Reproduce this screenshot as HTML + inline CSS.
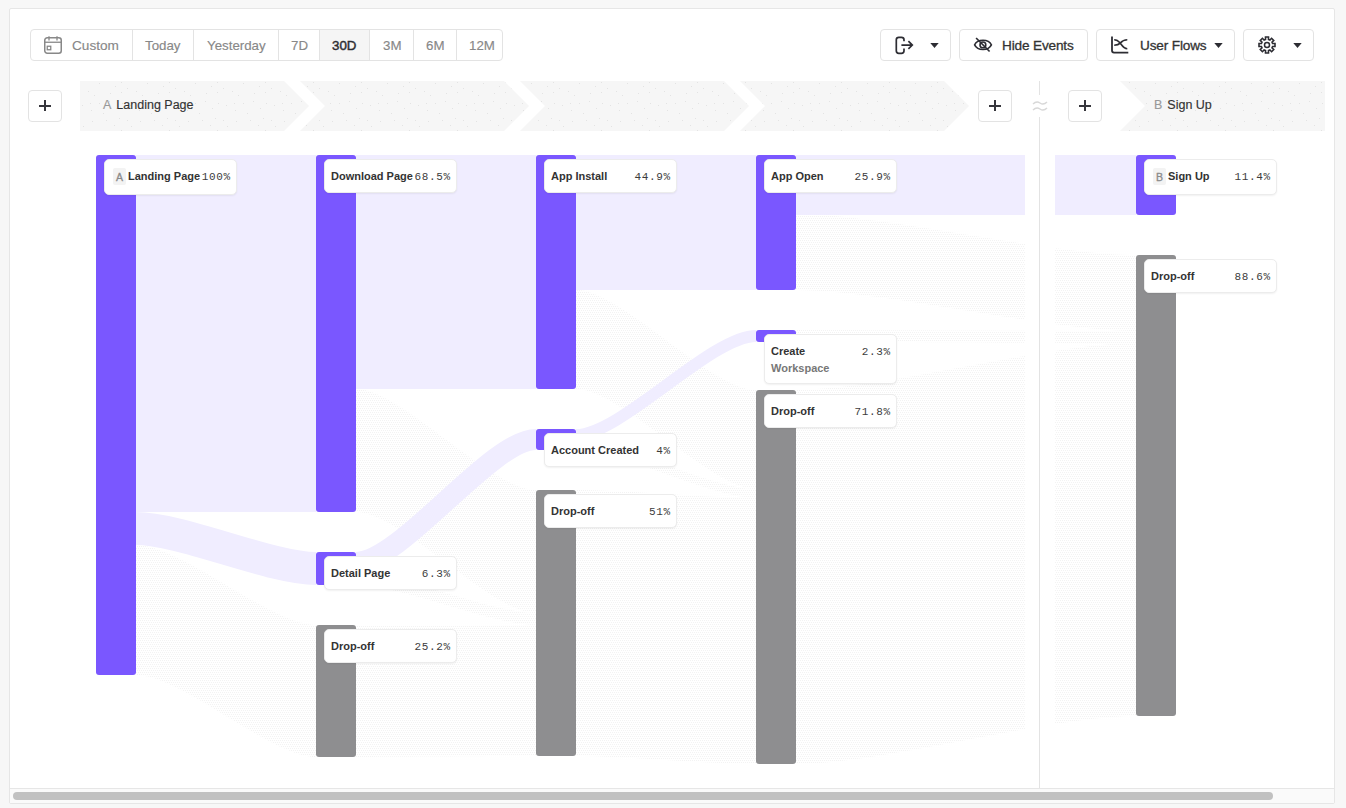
<!DOCTYPE html>
<html><head><meta charset="utf-8"><style>
*{box-sizing:border-box}
html,body{margin:0;padding:0;width:1346px;height:808px;overflow:hidden;background:#f7f7f7;font-family:"Liberation Sans",sans-serif}
.card{position:absolute;left:9px;top:8px;width:1326px;height:796px;background:#fff;border:1px solid #e6e6e6;border-radius:2px;overflow:hidden}
.abs{position:absolute}
.seg{position:absolute;top:29px;height:32px;border:1px solid #e3e3e3;border-left:none;font-size:13px;color:#888;line-height:30px;text-align:center;white-space:nowrap}
.btn{position:absolute;top:29px;height:32px;border:1px solid #e3e3e3;border-radius:4px;background:#fff}
.btxt{position:absolute;top:0;line-height:30px;font-size:13.3px;color:#333;white-space:nowrap;-webkit-text-stroke:0.15px currentColor}
.plus{position:absolute;top:90px;width:34px;height:32px;border:1px solid #e3e3e3;border-radius:4px;background:#fff}
.plus:before{content:"";position:absolute;left:10.4px;top:14.2px;width:11.2px;height:1.7px;background:#36363c}
.plus:after{content:"";position:absolute;left:15.2px;top:9.3px;width:1.7px;height:11.2px;background:#36363c}
.htxt{position:absolute;top:95px;font-size:12.5px;line-height:20px;color:#333;white-space:nowrap}
.htxt b{font-weight:normal;color:#999;margin-right:5px}
.htxt{-webkit-text-stroke:0.15px currentColor}
.lbl{position:absolute;background:#fff;border:1px solid #ececec;border-radius:5px;box-shadow:0 1px 2px rgba(0,0,0,0.06);white-space:nowrap}
.lbl .nm{font-weight:bold;font-size:11px;color:#333;}
.lbl > .nm{position:absolute;left:6px;top:0;line-height:32px}

.lbl .badge{position:absolute;left:8px;top:8px;width:13px;height:17px;background:#f3f3f3;border-radius:2px;color:#8a8a8a;font-size:10.5px;line-height:18px;text-align:center;-webkit-text-stroke:0.3px #8a8a8a}
.lbl .badge + .nm{left:23px}
.lbl .pct{position:absolute;right:6px;top:1px;line-height:32px;font-family:"Liberation Mono",monospace;font-size:11px;letter-spacing:0.6px;margin-right:-0.6px;color:#3c3c3c}
.nm2{position:absolute;left:6px;top:7px;line-height:16px}
.nmg{font-weight:bold;font-size:11px;color:#777}
</style></head><body>
<div class="card"></div>
<!-- date range segmented control -->
<div class="abs" style="left:30px;top:29px;width:473px;height:32px;border:1px solid #e3e3e3;border-radius:4px;background:#fff"></div>
<div class="seg" style="left:30px;width:103px;border:none"> </div>
<svg class="abs" style="left:43px;top:36px" width="20" height="19" viewBox="0 0 20 19"><rect x="1.75" y="1.75" width="16.5" height="15.5" rx="2.5" fill="none" stroke="#888" stroke-width="1.5"/><path d="M1.75 6.25 H18.25" stroke="#888" stroke-width="1.3"/><path d="M6 0.3 V4.5 M14 0.3 V4.5" stroke="#888" stroke-width="1.3"/><rect x="4.25" y="10.25" width="3.5" height="3.5" fill="none" stroke="#888" stroke-width="1.3"/></svg>
<div class="btxt" style="left:72px;top:29px;color:#888;font-size:13.6px;line-height:33px">Custom</div>
<div class="abs" style="left:132px;top:29px;width:1px;height:32px;background:#e3e3e3"></div>
<div class="btxt" style="left:145px;top:29px;color:#888;line-height:33px">Today</div>
<div class="abs" style="left:193px;top:29px;width:1px;height:32px;background:#e3e3e3"></div>
<div class="btxt" style="left:207px;top:29px;color:#888;line-height:33px">Yesterday</div>
<div class="abs" style="left:278px;top:29px;width:1px;height:32px;background:#e3e3e3"></div>
<div class="btxt" style="left:291px;top:29px;color:#888;line-height:33px">7D</div>
<div class="abs" style="left:319px;top:30px;width:51px;height:30px;background:#f5f5f5;border-left:1px solid #e3e3e3;border-right:1px solid #e3e3e3"></div>
<div class="btxt" style="left:332px;top:29px;color:#2d2d33;line-height:33px;-webkit-text-stroke:0.45px #2d2d33">30D</div>
<div class="btxt" style="left:383px;top:29px;color:#888;line-height:33px">3M</div>
<div class="abs" style="left:413px;top:29px;width:1px;height:32px;background:#e3e3e3"></div>
<div class="btxt" style="left:426px;top:29px;color:#888;line-height:33px">6M</div>
<div class="abs" style="left:456px;top:29px;width:1px;height:32px;background:#e3e3e3"></div>
<div class="btxt" style="left:469px;top:29px;color:#888;line-height:33px">12M</div>

<!-- right toolbar -->
<div class="btn" style="left:880px;width:71px"></div>
<svg class="abs" style="left:894px;top:36px" width="20" height="19" viewBox="0 0 20 19"><path d="M10 5.3 V3.8 Q10 1.3 7.5 1.3 H4.8 Q2.3 1.3 2.3 3.8 V14.8 Q2.3 17.3 4.8 17.3 H7.5 Q10 17.3 10 14.8 V12.5" fill="none" stroke="#2d2d33" stroke-width="1.7"/><path d="M7.4 9.06 H18.2 M14.4 5.2 L18.3 9.06 L14.4 12.9" fill="none" stroke="#2d2d33" stroke-width="1.7"/></svg>
<div class="abs" style="left:930px;top:43px;line-height:0"><svg style="display:block" width="9" height="5" viewBox="0 0 9 5"><path d="M0.3 0 L8.7 0 L4.5 4.9 Z" fill="#2d2d33"/></svg></div>
<div class="btn" style="left:959px;width:129px"></div>
<svg class="abs" style="left:973px;top:36px" width="20" height="18" viewBox="0 0 20 18"><path d="M1.6 8.9 C4.6 2.7 15.4 2.7 18.4 8.9 C15.4 15.1 4.6 15.1 1.6 8.9 Z" fill="none" stroke="#2d2d33" stroke-width="1.6"/><circle cx="9.9" cy="8.9" r="2.9" fill="none" stroke="#2d2d33" stroke-width="1.6"/><path d="M3.1 2 L16.6 15.5" stroke="#2d2d33" stroke-width="1.6"/></svg>
<div class="btxt" style="left:1002px;top:29px;line-height:33px;font-size:13.6px;letter-spacing:-0.15px;-webkit-text-stroke:0.3px #333">Hide Events</div>
<div class="btn" style="left:1096px;width:139px"></div>
<svg class="abs" style="left:1110px;top:36px" width="20" height="19" viewBox="0 0 20 19"><path d="M2 0.6 V14.6 Q2 16.6 4 16.6 H18.3" fill="none" stroke="#2d2d33" stroke-width="1.8"/><path d="M4.2 3.7 C7.5 3.7 8.6 5.2 10.2 7.1 C12 9.6 13.6 12.7 17.3 12.7 M4.2 9.2 C7.5 9.2 8.8 8.7 10.2 7.1 C12 5 13.6 3.7 17.3 3.7" fill="none" stroke="#2d2d33" stroke-width="1.6"/></svg>
<div class="btxt" style="left:1140px;top:29px;line-height:33px;font-size:13.6px;letter-spacing:-0.15px;-webkit-text-stroke:0.3px #333">User Flows</div>
<div class="abs" style="left:1214px;top:43px;line-height:0"><svg style="display:block" width="9" height="5" viewBox="0 0 9 5"><path d="M0.3 0 L8.7 0 L4.5 4.9 Z" fill="#2d2d33"/></svg></div>
<div class="btn" style="left:1243px;width:71px"></div>
<svg class="abs" style="left:1257px;top:35px" width="20" height="20" viewBox="0 0 20 20"><path d="M8.50 4.40 L8.50 2.00 L11.50 2.00 L11.50 4.40 L12.90 4.98 L14.60 3.28 L16.72 5.40 L15.02 7.10 L15.60 8.50 L18.00 8.50 L18.00 11.50 L15.60 11.50 L15.02 12.90 L16.72 14.60 L14.60 16.72 L12.90 15.02 L11.50 15.60 L11.50 18.00 L8.50 18.00 L8.50 15.60 L7.10 15.02 L5.40 16.72 L3.28 14.60 L4.98 12.90 L4.40 11.50 L2.00 11.50 L2.00 8.50 L4.40 8.50 L4.98 7.10 L3.28 5.40 L5.40 3.28 L7.10 4.98 Z" fill="none" stroke="#2d2d33" stroke-width="1.6" stroke-linejoin="miter"/><circle cx="10" cy="10" r="2.5" fill="none" stroke="#2d2d33" stroke-width="1.5"/></svg>
<div class="abs" style="left:1293px;top:43px;line-height:0"><svg style="display:block" width="9" height="5" viewBox="0 0 9 5"><path d="M0.3 0 L8.7 0 L4.5 4.9 Z" fill="#2d2d33"/></svg></div>

<!-- chart svg -->
<svg class="abs" style="left:0;top:0" width="1346" height="808" viewBox="0 0 1346 808">
<defs><pattern id="dots" width="2" height="4" patternUnits="userSpaceOnUse"><rect width="2" height="4" fill="#ffffff"/><rect width="1" height="1" fill="#f3f3f3"/><rect x="1" y="2" width="1" height="1" fill="#f3f3f3"/></pattern><pattern id="hdots" width="48" height="48" patternUnits="userSpaceOnUse" x="0" y="3"><rect width="48" height="48" fill="#f6f6f6"/><rect x="20" y="9" width="1" height="1" fill="#e3e3e3"/><rect x="25" y="41" width="1" height="1" fill="#e3e3e3"/><rect x="3" y="4" width="1" height="1" fill="#e3e3e3"/><rect x="34" y="6" width="1" height="1" fill="#e3e3e3"/><rect x="3" y="32" width="1" height="1" fill="#e3e3e3"/><rect x="13" y="2" width="1" height="1" fill="#e3e3e3"/><rect x="26" y="4" width="1" height="1" fill="#e3e3e3"/><rect x="35" y="27" width="1" height="1" fill="#e3e3e3"/><rect x="7" y="14" width="1" height="1" fill="#e3e3e3"/><rect x="40" y="40" width="1" height="1" fill="#e3e3e3"/><rect x="18" y="26" width="1" height="1" fill="#e3e3e3"/><rect x="19" y="35" width="1" height="1" fill="#e3e3e3"/><rect x="43" y="11" width="1" height="1" fill="#e3e3e3"/><rect x="23" y="19" width="1" height="1" fill="#e3e3e3"/><rect x="31" y="21" width="1" height="1" fill="#e3e3e3"/><rect x="10" y="21" width="1" height="1" fill="#e3e3e3"/><rect x="42" y="4" width="1" height="1" fill="#e3e3e3"/><rect x="44" y="22" width="1" height="1" fill="#e3e3e3"/><rect x="46" y="44" width="1" height="1" fill="#e3e3e3"/><rect x="25" y="31" width="1" height="1" fill="#e3e3e3"/><rect x="14" y="42" width="1" height="1" fill="#e3e3e3"/><rect x="31" y="37" width="1" height="1" fill="#e3e3e3"/></pattern></defs><path d="M136 545 C181.0 545 271.0 625 316 625 L316 757 C271.0 757 181.0 675 136 675 Z" fill="url(#dots)"/><path d="M356 389 C401.0 389 491.0 490 536 490 L536 613 C491.0 613 401.0 512 356 512 Z" fill="url(#dots)"/><path d="M356 573 C401.0 573 491.0 613 536 613 L536 625 C491.0 625 401.0 585 356 585 Z" fill="url(#dots)"/><path d="M356 625 C401.0 625 491.0 625 536 625 L536 756 C491.0 756 401.0 757 356 757 Z" fill="url(#dots)"/><path d="M576 290 C621.0 290 711.0 390 756 390 L756 489 C711.0 489 621.0 389 576 389 Z" fill="url(#dots)"/><path d="M576 441 C621.0 441 711.0 489 756 489 L756 498 C711.0 498 621.0 450 576 450 Z" fill="url(#dots)"/><path d="M576 490 C621.0 490 711.0 498 756 498 L756 764 C711.0 764 621.0 756 576 756 Z" fill="url(#dots)"/><path d="M796 214 C881.0 214 1051.0 255 1136 255 L1136 331 C1051.0 331 881.0 290 796 290 Z" fill="url(#dots)"/><path d="M796 330 C881.0 330 1051.0 331 1136 331 L1136 343 C1051.0 343 881.0 342 796 342 Z" fill="url(#dots)"/><path d="M796 390 C881.0 390 1051.0 343 1136 343 L1136 716 C1051.0 716 881.0 764 796 764 Z" fill="url(#dots)"/><path d="M136 333.5 C181.0 333.5 271.0 333.5 316 333.5" fill="none" stroke="#f0edff" stroke-width="357"/><path d="M136 528.5 C181.0 528.5 271.0 568.5 316 568.5" fill="none" stroke="#f0edff" stroke-width="33"/><path d="M356 272.0 C401.0 272.0 491.0 272.0 536 272.0" fill="none" stroke="#f0edff" stroke-width="234"/><path d="M356 562.5 C401.0 562.5 491.0 439.5 536 439.5" fill="none" stroke="#f0edff" stroke-width="21"/><path d="M576 222.5 C621.0 222.5 711.0 222.5 756 222.5" fill="none" stroke="#f0edff" stroke-width="135"/><path d="M576 435.0 C621.0 435.0 711.0 336.0 756 336.0" fill="none" stroke="#f0edff" stroke-width="12"/><rect x="796" y="155" width="340" height="60" fill="#f0edff"/><rect x="1025" y="140" width="30" height="640" fill="#ffffff"/><rect x="96" y="155" width="40" height="520" rx="3" fill="#7a57ff"/><rect x="316" y="155" width="40" height="357" rx="3" fill="#7a57ff"/><rect x="316" y="552" width="40" height="33" rx="3" fill="#7a57ff"/><rect x="316" y="625" width="40" height="132" rx="3" fill="#8e8e90"/><rect x="536" y="155" width="40" height="234" rx="3" fill="#7a57ff"/><rect x="536" y="429" width="40" height="21" rx="3" fill="#7a57ff"/><rect x="536" y="490" width="40" height="266" rx="3" fill="#8e8e90"/><rect x="756" y="155" width="40" height="135" rx="3" fill="#7a57ff"/><rect x="756" y="330" width="40" height="12" rx="3" fill="#7a57ff"/><rect x="756" y="390" width="40" height="374" rx="3" fill="#8e8e90"/><rect x="1136" y="155" width="40" height="60" rx="3" fill="#7a57ff"/><rect x="1136" y="255" width="40" height="461" rx="3" fill="#8e8e90"/>
<path d="M80 81 L284 81 L309 106 L284 131 L80 131 Z" fill="url(#hdots)"/><path d="M300 81 L504 81 L529 106 L504 131 L300 131 L325 106 Z" fill="url(#hdots)"/><path d="M520 81 L724 81 L749 106 L724 131 L520 131 L545 106 Z" fill="url(#hdots)"/><path d="M740 81 L944 81 L969 106 L944 131 L740 131 L765 106 Z" fill="url(#hdots)"/><path d="M1120 81 L1325 81 L1325 131 L1120 131 L1145 106 Z" fill="url(#hdots)"/>
<rect x="1039" y="81" width="1" height="14" fill="#e3e3e3"/>
<rect x="1039" y="117" width="1" height="671" fill="#e3e3e3"/>
<path d="M1033 104 Q1036.5 100.5 1040 103 Q1043.5 105.5 1047 102 M1033 110 Q1036.5 106.5 1040 109 Q1043.5 111.5 1047 108" fill="none" stroke="#d8d8d8" stroke-width="1.4"/>
</svg>

<div class="plus" style="left:28px"></div>
<div class="plus" style="left:978px"></div>
<div class="plus" style="left:1068px"></div>
<div class="htxt" style="left:103px"><b>A</b>Landing Page</div>
<div class="htxt" style="left:1154px"><b>B</b>Sign Up</div>

<div class="lbl" style="left:104px;top:159px;width:133px;height:36px"><span class="badge">A</span><span class="nm">Landing Page</span><span class="pct">100%</span></div><div class="lbl" style="left:324px;top:159px;width:133px;height:34px"><span class="nm">Download Page</span><span class="pct">68.5%</span></div><div class="lbl" style="left:324px;top:556px;width:133px;height:34px"><span class="nm">Detail Page</span><span class="pct">6.3%</span></div><div class="lbl" style="left:324px;top:629px;width:133px;height:34px"><span class="nm">Drop-off</span><span class="pct">25.2%</span></div><div class="lbl" style="left:544px;top:159px;width:133px;height:34px"><span class="nm">App Install</span><span class="pct">44.9%</span></div><div class="lbl" style="left:544px;top:433px;width:133px;height:34px"><span class="nm">Account Created</span><span class="pct">4%</span></div><div class="lbl" style="left:544px;top:494px;width:133px;height:34px"><span class="nm">Drop-off</span><span class="pct">51%</span></div><div class="lbl" style="left:764px;top:159px;width:133px;height:34px"><span class="nm">App Open</span><span class="pct">25.9%</span></div><div class="lbl" style="left:764px;top:334px;width:133px;height:50px"><div class="nm2"><span class="nm">Create</span><br><span class="nmg">Workspace</span></div><span class="pct" style="top:9px;line-height:16px">2.3%</span></div><div class="lbl" style="left:764px;top:394px;width:133px;height:34px"><span class="nm">Drop-off</span><span class="pct">71.8%</span></div><div class="lbl" style="left:1144px;top:159px;width:133px;height:36px"><span class="badge">B</span><span class="nm">Sign Up</span><span class="pct">11.4%</span></div><div class="lbl" style="left:1144px;top:259px;width:133px;height:34px"><span class="nm">Drop-off</span><span class="pct">88.6%</span></div>

<!-- scrollbar -->
<div class="abs" style="left:10px;top:788px;width:1324px;height:1px;background:#e6e6e6"></div>
<div class="abs" style="left:10px;top:789px;width:1324px;height:14px;background:#fafafa"></div>
<div class="abs" style="left:13px;top:792px;width:1260px;height:8px;background:#c1c1c1;border-radius:4px"></div>
</body></html>
